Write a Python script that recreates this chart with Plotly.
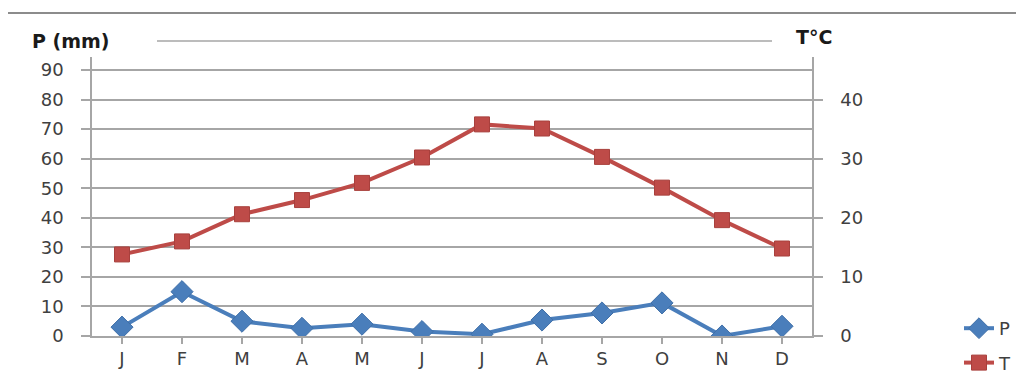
import plotly.graph_objects as go

# Monthly climate data
months = ["J", "F", "M", "A", "M", "J", "J", "A", "S", "O", "N", "D"]
precip_mm = [3, 15, 5, 2.6, 4, 1.5, 0.6, 5.4, 7.8, 11.2, 0, 3.3]
temp_c = [13.8, 16.0, 20.6, 23.0, 25.9, 30.2, 35.8, 35.1, 30.3, 25.1, 19.6, 14.8]

p_ticks = [0, 10, 20, 30, 40, 50, 60, 70, 80, 90]
t_ticks = [0, 10, 20, 30, 40]

blue = "#4A7EBB"
red = "#BE4B48"
grid = "#A6A6A6"
label_col = "#404040"

x_idx = list(range(len(months)))

fig = go.Figure()
fig.add_trace(go.Scatter(
    x=x_idx, y=precip_mm, name="P", mode="lines+markers",
    line=dict(color=blue, width=4),
    marker=dict(symbol="diamond", size=17, color=blue, line=dict(color="#3F6FA8", width=1)),
    legendgroup="p", yaxis="y",
))
fig.add_trace(go.Scatter(
    x=x_idx, y=temp_c, name="T", mode="lines+markers",
    line=dict(color=red, width=4),
    marker=dict(symbol="square", size=15, color=red, line=dict(color="#A8403D", width=1)),
    legendgroup="t", yaxis="y2",
))

font = "DejaVu Sans"
L, R, T, B = 92, 204, 57, 43
W, H = 1016, 379
plot_h = H - T - B
plot_w = W - L - R


def py(px_y):
    return (H - B - px_y) / plot_h


def px(px_x):
    return (px_x - L) / plot_w


fig.update_layout(
    width=W, height=H,
    margin=dict(l=L, r=R, t=T, b=B, autoexpand=False),
    paper_bgcolor="white", plot_bgcolor="white",
    font=dict(family=font, size=18, color=label_col),
    xaxis=dict(
        range=[-0.5, 11.5],
        tickmode="array", tickvals=x_idx, ticktext=months,
        showgrid=False, zeroline=False,
        showline=True, linecolor=grid, linewidth=1.5,
        ticks="outside", ticklen=6, tickcolor=grid, tickwidth=1.5,
        tickfont=dict(family=font, size=18, color=label_col),
    ),
    yaxis=dict(
        range=[0, 94.4],
        tickmode="array", tickvals=p_ticks,
        showgrid=True, gridcolor=grid, gridwidth=1.5,
        zeroline=False,
        showline=True, linecolor=grid, linewidth=1.5,
        ticks="outside", ticklen=9, tickcolor=grid, tickwidth=1.5,
        ticklabelstandoff=14,
        tickfont=dict(family=font, size=18, color=label_col),
    ),
    yaxis2=dict(
        range=[0, 47.2], overlaying="y", side="right",
        tickmode="array", tickvals=t_ticks,
        showgrid=False, zeroline=False,
        showline=True, linecolor=grid, linewidth=1.5,
        ticks="outside", ticklen=9, tickcolor=grid, tickwidth=1.5,
        ticklabelstandoff=14,
        tickfont=dict(family=font, size=18, color=label_col),
    ),
    legend=dict(
        x=px(959), y=py(310), xanchor="left", yanchor="top",
        font=dict(family=font, size=18, color=label_col),
        traceorder="grouped", tracegroupgap=8,
        bgcolor="rgba(0,0,0,0)",
    ),
    showlegend=True,
)

# Chart frame line along the top and the partially visible top gridline
fig.add_shape(type="line", xref="paper", yref="paper",
              x0=px(8), x1=px(1016), y0=py(13), y1=py(13),
              line=dict(color="#8C8C8C", width=2))
fig.add_shape(type="line", xref="paper", yref="paper",
              x0=px(157), x1=px(772), y0=py(41), y1=py(41),
              line=dict(color=grid, width=1.5))

# Axis titles
fig.add_annotation(text="<b>P (mm)</b>", xref="paper", yref="paper",
                   x=px(30), y=py(41), xanchor="left", yanchor="middle",
                   showarrow=False, font=dict(family=font, size=19, color="#1A1A1A"))
fig.add_annotation(text="<b>T°C</b>", xref="paper", yref="paper",
                   x=px(794), y=py(37), xanchor="left", yanchor="middle",
                   showarrow=False, font=dict(family=font, size=19, color="#1A1A1A"))

fig.write_html("out.html")
